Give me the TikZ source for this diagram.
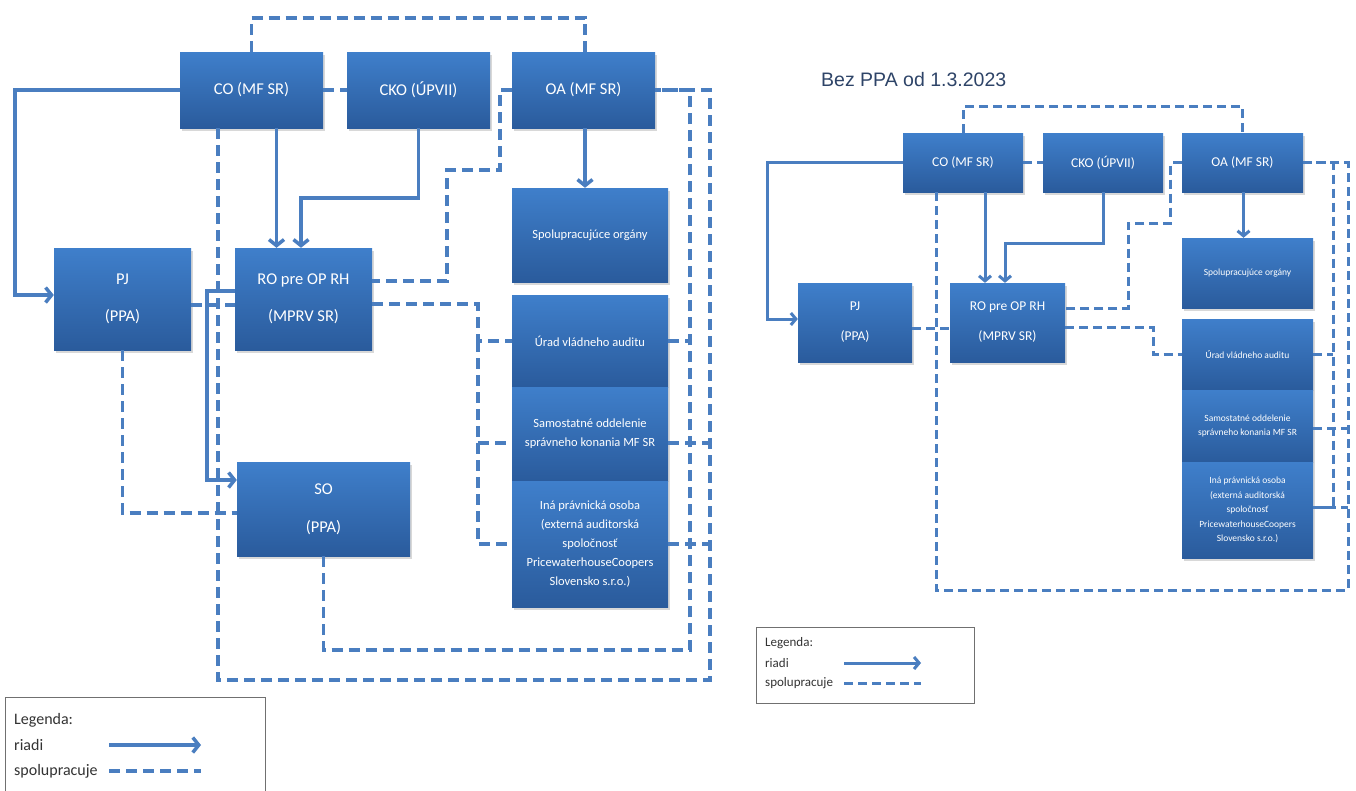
\documentclass[tikz,border=0pt]{standalone}
\usepackage{fontspec}
\setmainfont{Carlito}
\newfontfamily\titlefont{Liberation Sans}
\usetikzlibrary{arrows.meta,shadows}
\definecolor{BoxTop}{HTML}{3F7FCB}
\definecolor{BoxBottom}{HTML}{2A5B9C}
\definecolor{LineBlue}{HTML}{4A7EC0}
\definecolor{NiceBlack}{HTML}{333333}
\definecolor{TitleBlue}{HTML}{2E4468}

\tikzset{
  orgbox/.style={top color=BoxTop, bottom color=BoxBottom, text=white, align=center,
    inner sep=2pt, drop shadow={opacity=0.3, shadow xshift=1.5pt, shadow yshift=-2.5pt}},
  bigbox/.style={orgbox, font=\fontsize{16.5}{19}\selectfont},
  stackbox/.style={orgbox, font=\fontsize{12.5}{19}\selectfont, minimum width=156},
  bigbox2/.style={orgbox, font=\fontsize{13.5}{16}\selectfont},
  stackbox2/.style={orgbox, font=\fontsize{9.5}{14.5}\selectfont, minimum width=131},
  manages/.style={LineBlue, line width=3.5pt, -{Straight Barb[length=6pt,width=15pt]}},
  cooperates/.style={LineBlue, line width=3.5pt, dash pattern=on 11pt off 6pt},
  manages2/.style={LineBlue, line width=3pt, -{Straight Barb[length=5pt,width=12pt]}},
  cooperates2/.style={LineBlue, line width=3pt, dash pattern=on 9pt off 5pt},
  legtext/.style={anchor=west, text=NiceBlack, inner sep=0pt},
}

\begin{document}
\begin{tikzpicture}[x=1pt, y=-1pt]
  \clip (0,0) rectangle (1356,790);
  \fill[white] (0,0) rectangle (1356,790);

  % Left chart: boxes
  \node[bigbox, minimum width=143, minimum height=76] (co) at (251.5,90) {CO (MF SR)};
  \node[bigbox, minimum width=143, minimum height=76] (cko) at (418.5,90) {CKO (ÚPVII)};
  \node[bigbox, minimum width=143, minimum height=76] (oa) at (583.5,90) {OA (MF SR)};
  \node[bigbox, minimum width=137, minimum height=102] (pj) at (122.5,299) {PJ\\[18pt](PPA)};
  \node[bigbox, minimum width=137, minimum height=102] (ro) at (303.5,299) {RO pre OP RH\\[18pt](MPRV SR)};
  \node[bigbox, minimum width=173, minimum height=94] (so) at (323.5,509) {SO\\[19pt](PPA)};
  \node[stackbox, minimum height=94] (sp) at (590,235) {Spolupracujúce orgány};
  \node[stackbox, minimum height=92] (ur) at (590,341) {Úrad vládneho auditu};
  \node[stackbox, minimum height=94] (sam) at (590,434) {Samostatné oddelenie\\správneho konania MF SR};
  \node[stackbox, minimum height=126] (ina) at (590,544) {Iná právnická osoba\\(externá auditorská\\spoločnosť\\PricewaterhouseCoopers\\Slovensko s.r.o.)};

  % Left chart: links
  \coordinate (lin) at (690,650);
  \coordinate (lout) at (710,680);
  \coordinate (lbus) at (478,304);
  \draw[cooperates] (co.north) -- ++(0,-34) -| ([xshift=1.5]oa.north);
  \draw[cooperates] (co.east) -- (cko.west);
  \draw[manages] (co.west) -| (15,200) |- ([yshift=4]pj.west);
  \draw[manages] ([xshift=25]co.south) -- ([xshift=25]co.south |- ro.north);
  \draw[manages] (cko.south) -- ++(0,70) -| ([xshift=-2.5]ro.north);
  \draw[manages] ([xshift=1.5]oa.south) -- ([xshift=1.5]oa.south |- sp.north);
  \draw[cooperates] ([xshift=-33.5]co.south) |- (lout) |- (oa.east);
  \draw[cooperates] (so.south) |- (lin) |- (oa.east);
  \draw[cooperates] (oa.west) -- ++(-12,0) |- (447,170) |- ([yshift=18]ro.east);
  \draw[cooperates] ([yshift=-5]ro.east) -- (lbus) |- (ur.west);
  \draw[cooperates] (ur.west -| lbus) |- ([yshift=-9]sam.west);
  \draw[cooperates] ([yshift=-9]sam.west -| lbus) |- (ina.west);
  \draw[cooperates] (ur.east) -- (ur.east -| lin);
  \draw[cooperates] ([yshift=-9]sam.east) -- ([yshift=-9]sam.east -| lout);
  \draw[cooperates] (ina.east) -- (ina.east -| lout);
  \draw[cooperates] ([yshift=-6]pj.east) -- ([yshift=-6]ro.west);
  \draw[manages] ([yshift=8]ro.west) -| (207,400) |- ([yshift=29]so.west);
  \draw[cooperates] (pj.south) |- ([yshift=-4]so.west);

  % Left legend
  \draw[NiceBlack!70, line width=1pt] (5,697) rectangle (265,800);
  \node[legtext, font=\fontsize{16}{19}\selectfont] (leg) at (14,720) {Legenda:};
  \node[legtext, font=\fontsize{16}{19}\selectfont] (legm) at (14,745) {riadi};
  \node[legtext, font=\fontsize{16}{19}\selectfont] (legc) at (14,771) {spolupracuje};
  \coordinate (legma) at (109,745);
  \coordinate (legca) at (109,771);
  \draw[manages] (legma) -- ++(92,0);
  \draw[cooperates] (legca) -- ++(92,0);

  % Right chart: title and boxes
  \node[font=\titlefont\fontsize{19.5}{23}\selectfont, text=TitleBlue, anchor=base west, inner sep=0pt]
    (title) at (821,86) {Bez PPA od 1.3.2023};
  \node[bigbox2, minimum width=120, minimum height=59] (co2) at (963,162.5) {CO (MF SR)};
  \node[bigbox2, minimum width=120, minimum height=59] (cko2) at (1103,162.5) {CKO (ÚPVII)};
  \node[bigbox2, minimum width=121, minimum height=59] (oa2) at (1242.5,162.5) {OA (MF SR)};
  \node[bigbox2, minimum width=114, minimum height=79] (pj2) at (855,322.5) {PJ\\[14pt](PPA)};
  \node[bigbox2, minimum width=115, minimum height=79] (ro2) at (1007.5,322.5) {RO pre OP RH\\[14pt](MPRV SR)};
  \node[stackbox2, minimum height=70] (sp2) at (1247.5,273) {Spolupracujúce orgány};
  \node[stackbox2, minimum height=71] (ur2) at (1247.5,354.5) {Úrad vládneho auditu};
  \node[stackbox2, minimum height=72] (sam2) at (1247.5,426) {Samostatné oddelenie\\správneho konania MF SR};
  \node[stackbox2, minimum height=96] (ina2) at (1247.5,510) {Iná právnická osoba\\(externá auditorská\\spoločnosť\\PricewaterhouseCoopers\\Slovensko s.r.o.)};

  % Right chart: links
  \coordinate (rin) at (1333,480);
  \coordinate (rout) at (1348,590);
  \draw[cooperates2] (co2.north) -- ++(0,-26) -| (oa2.north);
  \draw[cooperates2] (co2.east) -- (cko2.west);
  \draw[manages2] (co2.west) -| (767,250) |- ([yshift=3.5]pj2.west);
  \draw[manages2] ([xshift=22]co2.south) -- ([xshift=22]co2.south |- ro2.north);
  \draw[manages2] (cko2.south) -- ++(0,51) -| ([xshift=-2.5]ro2.north);
  \draw[manages2] ([xshift=1]oa2.south) -- ([xshift=1]oa2.south |- sp2.north);
  \draw[cooperates2] ([xshift=-27]co2.south) |- (rout) |- (oa2.east);
  \draw[cooperates2] (oa2.east) -| (rin) |- ([yshift=3]ina2.east);
  \draw[cooperates2] (ur2.east) -- (ur2.east -| rin);
  \draw[cooperates2] ([yshift=-2]sam2.east) -- ([yshift=-2]sam2.east -| rout);
  \draw[cooperates2] ([yshift=3]ina2.east) -- ([yshift=3]ina2.east -| rout);
  \draw[cooperates2] (oa2.west) -- ++(-11,0) |- (1128,223) |- ([yshift=14.5]ro2.east);
  \draw[cooperates2] ([yshift=-4.5]ro2.east) -| (1153,340) |- (ur2.west);
  \draw[cooperates2] ([yshift=-5.5]pj2.east) -- ([yshift=-5.5]ro2.west);

  % Right legend
  \draw[NiceBlack!70, line width=1pt] (756,627) rectangle (974,703);
  \node[legtext, font=\fontsize{13}{16}\selectfont] (leg2) at (765,643) {Legenda:};
  \node[legtext, font=\fontsize{13}{16}\selectfont] (legm2) at (765,663) {riadi};
  \node[legtext, font=\fontsize{13}{16}\selectfont] (legc2) at (765,683) {spolupracuje};
  \coordinate (legma2) at (844,663);
  \coordinate (legca2) at (844,683);
  \draw[manages2] (legma2) -- ++(77,0);
  \draw[cooperates2] (legca2) -- ++(77,0);
\end{tikzpicture}
\end{document}
